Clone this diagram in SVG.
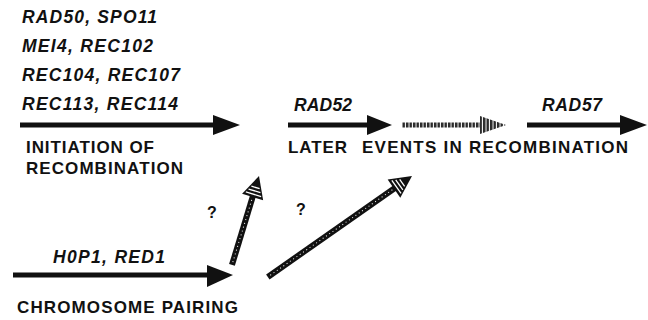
<svg xmlns="http://www.w3.org/2000/svg" width="648" height="320" viewBox="0 0 648 320">
<style>
.gene{font-family:"Liberation Sans",Arial,sans-serif;font-weight:bold;font-style:italic;font-size:17.5px;fill:#111}
.proc{font-family:"Liberation Sans",Arial,sans-serif;font-weight:bold;font-size:17px;fill:#111}
.q{font-family:"Liberation Sans",Arial,sans-serif;font-weight:bold;font-size:16px;fill:#111}
.shaft{stroke:#111;stroke-width:5;fill:none}
.head{fill:#111}
.dots{stroke:#fff;stroke-width:1;stroke-dasharray:1 3;fill:none}
.stripe{stroke:#fff;stroke-width:1.3}
</style>
<defs>
<pattern id="hatch" width="3.5" height="10" patternUnits="userSpaceOnUse">
<rect width="3.5" height="10" fill="#fff"/>
<rect width="2.5" height="10" fill="#2a2a2a"/>
</pattern>
<g id="stripedHead">
<polygon points="-22,-11 0,0 -22,11" fill="#111"/>
<line class="stripe" x1="-19" y1="-8" x2="-19" y2="8"/>
<line class="stripe" x1="-15.5" y1="-6.2" x2="-15.5" y2="6.2"/>
<line class="stripe" x1="-12" y1="-4.3" x2="-12" y2="4.3"/>
</g>
</defs>
<rect width="648" height="320" fill="#fff"/>

<g id="initiation-genes">
<text class="gene" x="22" y="23" textLength="135" lengthAdjust="spacing">RAD50, SPO11</text>
<text class="gene" x="22" y="52" textLength="131" lengthAdjust="spacing">MEI4, REC102</text>
<text class="gene" x="22" y="81" textLength="158" lengthAdjust="spacing">REC104, REC107</text>
<text class="gene" x="22" y="110" textLength="156" lengthAdjust="spacing">REC113, REC114</text>
</g>
<g id="initiation-label">
<text class="proc" x="26" y="153" textLength="128" lengthAdjust="spacing">INITIATION OF</text>
<text class="proc" x="26" y="174" textLength="157" lengthAdjust="spacing">RECOMBINATION</text>
</g>
<g id="rad52">
<text class="gene" x="294" y="111" textLength="58" lengthAdjust="spacing">RAD52</text>
</g>
<g id="rad57">
<text class="gene" x="542" y="111" textLength="60" lengthAdjust="spacing">RAD57</text>
</g>
<g id="later-label">
<text class="proc" x="288" y="153" textLength="59" lengthAdjust="spacing">LATER</text>
<text class="proc" x="362" y="153" textLength="266" lengthAdjust="spacing">EVENTS IN RECOMBINATION</text>
</g>
<g id="pairing-genes">
<text class="gene" x="53" y="263" textLength="112" lengthAdjust="spacing">H0P1, RED1</text>
</g>
<g id="pairing-label">
<text class="proc" x="17" y="313" textLength="221" lengthAdjust="spacing">CHROMOSOME PAIRING</text>
</g>
<g id="question-marks">
<text class="q" x="207" y="218">?</text>
<text class="q" x="296" y="215">?</text>
</g>

<g id="connectors">
<!-- initiation arrow -->
<line class="shaft" x1="20" y1="125" x2="215" y2="125"/>
<polygon class="head" points="213,115 240,125 213,135"/>
<!-- RAD52 arrow -->
<line class="shaft" x1="288" y1="125" x2="369" y2="125"/>
<polygon class="head" points="367,115 392,125 367,135"/>
<!-- hatched grey arrow -->
<rect x="402" y="122.5" width="80" height="5" fill="url(#hatch)"/>
<polygon points="480,116 506,125 480,134" fill="url(#hatch)"/>
<!-- RAD57 arrow -->
<line class="shaft" x1="527" y1="125" x2="622" y2="125"/>
<polygon class="head" points="620,115 647,125 620,135"/>
<!-- pairing arrow -->
<line class="shaft" x1="13" y1="275" x2="209" y2="275"/>
<polygon class="head" points="207,265 233,275 207,287"/>
<!-- up arrow to initiation -->
<g transform="translate(259,176) rotate(-73.1)">
<line x1="-93" y1="0" x2="-20" y2="0" stroke="#111" stroke-width="6"/>
<line class="dots" x1="-90" y1="0" x2="-22" y2="0"/>
<use href="#stripedHead"/>
</g>
<!-- diagonal arrow to later events -->
<g transform="translate(412,176) rotate(-35)">
<line x1="-176" y1="0" x2="-20" y2="0" stroke="#111" stroke-width="6"/>
<line class="dots" x1="-173" y1="0" x2="-22" y2="0"/>
<use href="#stripedHead"/>
</g>
</g>
</svg>
